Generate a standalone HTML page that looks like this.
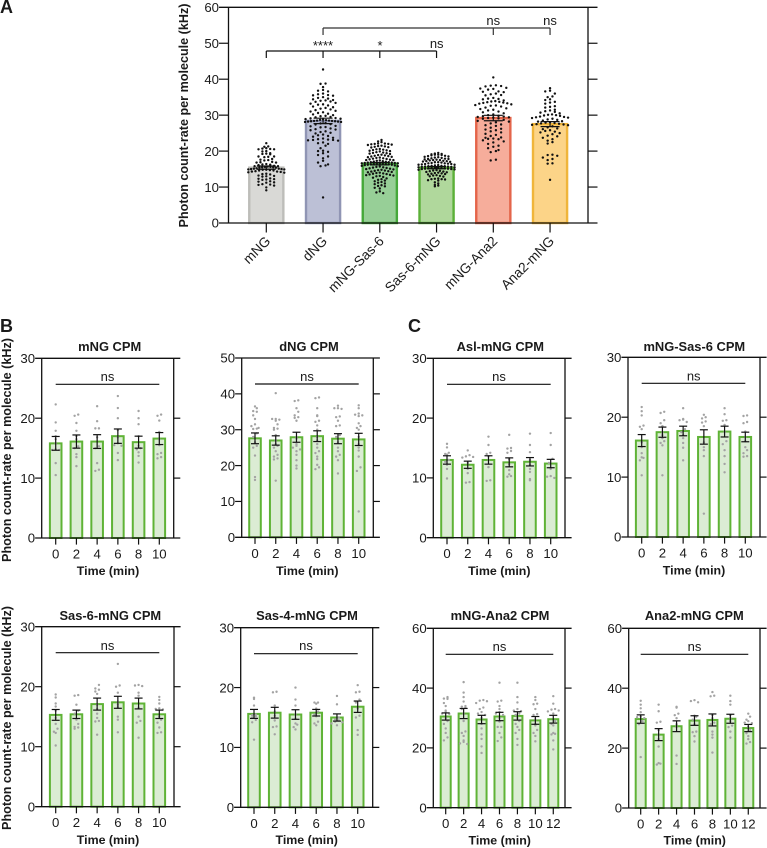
<!DOCTYPE html>
<html lang="en">
<head>
<meta charset="utf-8">
<title>Photon count-rate per molecule</title>
<style>
html,body{margin:0;padding:0;background:#fff}
svg{display:block}
text{font-family:"Liberation Sans",Arial,sans-serif;fill:#1a1a1a}
.pl{font-size:18px;font-weight:700}
.yt{font-size:12.6px;font-weight:700;text-anchor:middle}
.ti{font-size:12.9px;font-weight:700;text-anchor:middle}
.xt{font-size:12.4px;font-weight:700;text-anchor:middle}
.ns{font-size:13px;text-anchor:middle}
</style>
</head>
<body>
<svg id="figure" xmlns="http://www.w3.org/2000/svg" width="767" height="848" viewBox="0 0 767 848">
<rect x="0" y="0" width="767" height="848" fill="#fff"/>
<g id="marks"></g>

<text class="pl" x="0" y="13">A</text>
<text class="pl" x="0" y="332">B</text>
<text class="pl" x="408" y="332">C</text>

<text class="yt" transform="translate(188,115.5) rotate(-90)">Photon count-rate per molecule (kHz)</text>
<text class="yt" transform="translate(11,450) rotate(-90)">Photon count-rate per molecule (kHz)</text>
<text class="yt" transform="translate(11,718) rotate(-90)">Photon count-rate per molecule (kHz)</text>

<text x="323" y="50" font-size="13" text-anchor="middle">****</text>
<text x="380" y="50" font-size="13" text-anchor="middle">*</text>
<text class="ns" x="436.7" y="48">ns</text>
<text class="ns" x="493.3" y="25">ns</text>
<text class="ns" x="550" y="25">ns</text>

<text class="ti" x="109.7" y="351">mNG CPM</text>
<text class="ti" x="309" y="351">dNG CPM</text>
<text class="ti" x="500.3" y="351">Asl-mNG CPM</text>
<text class="ti" x="694.3" y="351">mNG-Sas-6 CPM</text>
<text class="ti" x="110.3" y="620">Sas-6-mNG CPM</text>
<text class="ti" x="307" y="620">Sas-4-mNG CPM</text>
<text class="ti" x="500" y="620">mNG-Ana2 CPM</text>
<text class="ti" x="694.3" y="620">Ana2-mNG CPM</text>

<text class="xt" x="108" y="575">Time (min)</text>
<text class="xt" x="307.3" y="575">Time (min)</text>
<text class="xt" x="499.3" y="575">Time (min)</text>
<text class="xt" x="694" y="574.5">Time (min)</text>
<text class="xt" x="108" y="844">Time (min)</text>
<text class="xt" x="306.7" y="844">Time (min)</text>
<text class="xt" x="499.7" y="844.5">Time (min)</text>
<text class="xt" x="694.7" y="844.5">Time (min)</text>

<text class="ns" x="107.5" y="381">ns</text>
<text class="ns" x="307" y="381">ns</text>
<text class="ns" x="499" y="381">ns</text>
<text class="ns" x="693.7" y="380.5">ns</text>
<text class="ns" x="107.5" y="650">ns</text>
<text class="ns" x="306" y="650">ns</text>
<text class="ns" x="499.5" y="651">ns</text>
<text class="ns" x="694.5" y="651">ns</text>
</svg>

<script>
// ---------- Panel A data ----------
const aCategories = ["mNG", "dNG", "mNG-Sas-6", "Sas-6-mNG", "mNG-Ana2", "Ana2-mNG"];
const aMeans = [15.4, 28.4, 16.5, 15.4, 29.2, 27.5];
const aSems = [0.45, 0.75, 0.35, 0.3, 0.75, 0.7];
const aTicks = [0, 10, 20, 30, 40, 50, 60];
const aDotsMng = [22.2,21.3,21.2,20.8,20.7,20.6,20.5,20.5,20,19.9,19.4,19.3,19.2,19.1,18.5,18.5,18.4,18.3,17.8,17.6,17.5,17.4,17,16.9,16.8,16.8,16.4,16.3,16.2,16.1,15.9,15.8,15.8,15.7,15.6,15.6,15.5,15.5,15.4,15.4,15.2,15.1,15.1,15,15,14.9,14.9,14.8,14.8,14.7,14.6,14.6,14.4,14.3,14.3,14.2,14.1,14,13.7,13.6,13.5,13.2,13.1,13,12.9,12.4,12.3,12.2,12.1,12,11.6,11.5,11.3,11.2,10.8,10.7,10.6,10.4,9.9,9.1];
const aDotsDng = [42.7,38.8,38.7,37.8,37,36.8,36.6,36,35.8,35.6,35.5,35.4,35,34.8,34.6,34.4,34.2,34.1,34,33.8,33.7,33.4,33.2,33,32.9,32.7,32.4,32.2,32,31.8,31.6,31.4,31.2,31,30.8,30.6,30.4,30.2,30,29.8,29.7,29.5,29.4,29.2,29.1,29,28.9,28.8,28.7,28.6,28.5,28.5,28.4,28.4,28.3,28.3,28.2,28.2,28.1,28.1,27.8,27.7,27.5,27.4,27,26.9,26.7,26.6,26.3,26.1,26,25.8,25.5,25.3,25.1,24.9,24.6,24.4,24.2,24,23.7,23.5,23.3,23.2,23.1,23.1,23,22.9,22.4,22.2,22,21.5,20.8,20.1,20,19.8,19.4,18.9,18.5,18,17.3,16.8,16.3,16,15.8,7.1];
const aDotsMngSas6 = [23.1,22.7,22.5,22.1,22.1,22,22,21.9,21.8,21.7,21.5,21.4,21.3,21.2,21.1,21,20.6,20.5,20.4,20.3,20.2,20.1,20,19.9,19.7,19.6,19.5,19.4,19.3,19.2,19,18.9,18.8,18.7,18.6,18.5,18.4,18.3,18.2,18.1,18,17.9,17.8,17.7,17.6,17.5,17.5,17.4,17.3,17.2,17.1,17,16.9,16.9,16.8,16.8,16.7,16.7,16.6,16.6,16.5,16.5,16.5,16.4,16.4,16.3,16.3,16.2,16.2,16.1,16,15.9,15.8,15.7,15.6,15.5,15.4,15.3,15.2,15.1,15,14.9,14.8,14.7,14.6,14.5,14.4,14.3,14.2,14.1,14,13.9,13.8,13.7,13.6,13.5,13.4,13.3,13.2,13.1,13,12.8,12.6,12.4,12.2,12,11.8,11.6,11.4,11.2,11,10.8,10.5,10.3,10.2,9.8,9.6,8.8,8.5,8.3];
const aDotsSas6Mng = [19.5,19.3,19.2,19.1,19,19,18.9,18.8,18.7,18.6,18.5,18.4,18.3,18.2,18.1,18,17.9,17.8,17.8,17.7,17.6,17.5,17.5,17.4,17.3,17.2,17.2,17.1,17,16.9,16.9,16.8,16.7,16.6,16.6,16.5,16.4,16.4,16.3,16.2,16.2,16.1,16,15.9,15.9,15.8,15.8,15.7,15.7,15.6,15.6,15.5,15.5,15.4,15.4,15.3,15.3,15.2,15.2,15.1,15.1,15,15,14.9,14.8,14.7,14.6,14.5,14.4,14.3,14.2,14.1,14,13.9,13.8,13.7,13.6,13.5,13.3,13.2,13.1,13,12.9,12.4,12.3,12.2,12.2,12.1,11.9,11.8,11.3,11,10.6,10.4,10.2];
const aDotsMngAna2 = [40.5,38.3,38.2,38.1,38,37.6,37.4,37.3,37.1,36.6,36.5,36.4,36,35.8,35.6,35.5,34.8,34.6,34.5,34.4,34.1,33.9,33.8,33.7,33.6,33.5,33.4,33.3,33.2,33,32.8,32.7,32.6,32.4,32.1,31.9,31.7,31.5,31.3,31,30.8,30.5,30.2,30,29.8,29.7,29.6,29.5,29.4,29.3,29.2,29.1,29,28.7,28.4,28.2,28,27.7,27.4,27.2,27,26.5,26.2,26,25.8,25.5,25.2,24.8,24.5,24.2,23.8,23.7,23.5,23.4,23.3,23,22.7,22.4,22,21.5,21.2,20.8,20.3,20,19.7,17.6,17.4];
const aDotsAna2Mng = [37.5,36.8,36.6,36,35.2,35,34.4,34.2,33.7,33.5,33.2,32.5,32.3,32.1,31.5,31.3,31.1,30.9,30.7,30.5,30.2,30.1,30,29.9,29.8,29.6,29.5,29.4,29.3,29.2,29,28.8,28.7,28.5,28.3,28.2,28,27.9,27.8,27.7,27.6,27.5,27.4,27.3,27.2,26.9,26.6,26.3,26.1,25.8,25.6,25.4,25.2,25,24.7,24.3,24.1,23.7,23.3,22.9,22.5,22.1,19,18.9,18.7,18.2,17.8,17.5,16.6,16.5,12];

// ---------- Panels B and C shared tick labels ----------
const times6 = [0, 2, 4, 6, 8, 10];
const times7 = [0, 2, 4, 6, 8, 10, 12];
const ticks30 = [0, 10, 20, 30];
const ticks50 = [0, 10, 20, 30, 40, 50];
const ticks60 = [0, 20, 40, 60];

// ---------- mNG CPM ----------
const mngCpmMeans = [15.8, 16.1, 16.1, 17, 16, 16.6];
const mngCpmSems = [1.15, 1.1, 1.15, 1.2, 1, 1];
const mngCpmDots = [
  [22.3,19.3,17.9,17,16.5,15.8,14.8,14.7,14.7,12.5,10.5],
  [20.6,20.4,19.2,17.9,17,16.5,15.3,15,14,13.5,12],
  [22,19.5,18.3,18.3,16.8,15.3,15,12.5,11.4,11.2],
  [23.7,21.7,20,18,16.8,15.8,15.5,15.4,14.2,13],
  [21.2,20,19,17,15.4,15,14.8,14.3,13.7,12.6],
  [20.6,20.4,19.6,17.7,16.5,15.5,14.2,14,13.5,13.3]
];

// ---------- dNG CPM ----------
const dngCpmMeans = [27.6, 27, 27.9, 28.2, 27.5, 27.3];
const dngCpmSems = [1.5, 1.3, 1.4, 1.5, 1.4, 1.7];
const dngCpmDots = [
  [36.5,36,35.2,35,34,33,31.5,31,30.5,30.3,30.2,29,28,26.5,25.5,25,22.8,16.8,16],
  [40.2,33,33,32.8,32.5,31.5,30.5,30.3,30,28.5,27,26,25.5,25,24,23,22.5,22,21.7,15.8],
  [38.2,38,36,35,34,33.5,33.3,32.5,28,27.5,26,25.5,25,24.5,24,23,21.5,20,19.2],
  [39,38.8,36,34,33.8,32.5,32.2,31.2,30,28,27,26,25,24,23.5,22.5,21.8,20.2,19.5,19],
  [36.7,36,36,35.8,33.7,33.5,32.5,31.2,31,28.5,28,26.5,25,24,23,22.5,21.5,17.8],
  [36.8,36,34.5,34.2,34,33.8,31.8,31,30.5,30,28,26,25,24.2,22.5,19.5,18.5,7.2]
];

// ---------- Asl-mNG CPM ----------
const aslCpmMeans = [13, 12.2, 13, 12.6, 12.7, 12.4];
const aslCpmSems = [0.7, 0.6, 0.7, 0.75, 0.7, 0.7];
const aslCpmDots = [
  [15.7,15.1,14.2,14,13.9,13,12.7,12.2,11.5,9.9],
  [14.6,13.8,13.6,13.5,13.4,12.5,11.5,10.8,9.3,9.2],
  [16.9,15.5,14.2,14,13.6,13,11.8,9.6,9.5],
  [17.2,15,14.9,14.5,14.2,13.1,12.3,11.3,10.6,10.3,10.2],
  [17.4,15.5,14.3,13,12.2,11.5,11,9.8,9.6],
  [17.5,15.5,13.2,12.5,11.5,10.3,10.2,10]
];

// ---------- mNG-Sas-6 CPM ----------
const mngSas6CpmMeans = [16.1, 17.5, 17.7, 16.7, 17.6, 16.7];
const mngSas6CpmSems = [1, 0.85, 0.8, 1.2, 0.9, 0.8];
const mngSas6CpmDots = [
  [21.7,21,20.3,18.6,18.4,18,15.8,15,14,13.3,13.2,12.8,10.3],
  [20.9,20.7,19.5,19,18.5,17.5,17,16.5,16,15.7,15.3,10.3],
  [21.5,19.7,19.6,19.5,19.2,18,17.5,17,16.5,15.7,14.9,12.8],
  [20.4,20,19.8,19.3,19.1,18.5,15.8,15,14.5,13.5,3.9],
  [21.5,20.5,19.5,19.4,18.7,17.5,16,15.5,14.5,13.5,12.2,10.8],
  [20.3,20.2,19.2,19,17.6,16.7,16,15,14.5,14,13.5,13.4]
];

// ---------- Sas-6-mNG CPM ----------
const sas6MngCpmMeans = [15.3, 15.4, 17.1, 17.4, 17.2, 15.4];
const sas6MngCpmSems = [0.9, 0.7, 1, 1, 0.9, 0.7];
const sas6MngCpmDots = [
  [18.7,18.2,17.2,16.7,16,14.8,13.8,13,12.5,12.3,10.2],
  [18.6,18.5,17,16,15.5,14.5,13.8,13.3,13.2,13],
  [20.3,19.7,19.5,19.2,18.8,17,16.3,15.5,14.8,14.3,14.2,12],
  [23.8,20.2,20,19,17.5,17,16.6,15,14.5,12.4],
  [20.3,20.2,20.1,19,18.5,16.5,15,14.3,14,11.5],
  [18.3,17.8,17.2,16.4,16.3,16.2,15,14.5,14,13.2,12.4,12.3]
];

// ---------- Sas-4-mNG CPM ----------
const sas4MngCpmMeans = [15.6, 15.8, 15.5, 15.8, 15, 16.8];
const sas4MngCpmSems = [0.75, 0.9, 0.8, 0.55, 0.6, 0.95];
const sas4MngCpmDots = [
  [18.3,18.1,17,15.5,15.4,15.2,15,14.6,14.2,11.3],
  [19.3,19.2,17,16,15.3,14.5,13.5,13.4,12.2],
  [20,18,17,15.5,14.8,14,13.8,13.4,13],
  [17.5,17.5,17.3,16.5,16,15.5,15.2,14.3,14,13.7],
  [18.6,17.2,15,14.7,14.5,14.3,14.2,14,13.7],
  [20.4,19.3,19.2,18,17.5,16.5,15.3,15,12.9,12.1]
];

// ---------- mNG-Ana2 CPM ----------
const mngAna2CpmMeans = [30.5, 31.5, 29.5, 30.5, 30.7, 29.2, 29.6];
const mngAna2CpmSems = [1.2, 1.7, 1.4, 1.4, 1.4, 1.3, 1.3];
const mngAna2CpmDots = [
  [37,36.5,36.4,35,34,32.5,32,31.5,31.4,30,29,28,26.5,25,23.5,22.5],
  [42,38.5,37,35.5,34,33.8,33.5,33,31.5,29,25.5,25,24,22.5,22,21.5,21.3],
  [36,35.8,35.6,35,33.5,33,32,31.5,31,30,28,26.5,24.5,23,20.5,18.3],
  [41.8,35.8,35.5,34,33,32,31.5,31,30,28.8,27,27,25,23.5,22.3],
  [41.8,37,35.2,33,32.5,32.3,31.5,31,30,29,28,27,26,25,23,21],
  [37,36,34.8,34.6,33,31.3,31,29.5,28,27.5,26,25,24,22.2],
  [37.3,34.8,33,32.8,32.5,32.2,31.5,29,28,27.5,25,24.7,24.5,22.5,19.5]
];

// ---------- Ana2-mNG CPM ----------
const ana2MngCpmMeans = [29.7, 24.5, 27.3, 29.2, 29.4, 29.8, 26.7];
const ana2MngCpmSems = [1.4, 2, 1.8, 1.6, 2, 1.5, 1.2];
const ana2MngCpmDots = [
  [35.8,34.5,33.3,32,30.5,30.3,30,29,28,17],
  [34.5,32.3,28.8,28.5,26,24.5,23,20.5,15,14.8,14.5],
  [33.8,33.5,31.5,31,30,28,27,17.5,14.7],
  [36,35.7,35.3,30.8,30.5,29.5,28,25.5,25.3,24,22.2],
  [38.7,37.5,37.3,31,30,28.5,28,25.5,24.5,23.5,18.5],
  [37.5,35.7,34.5,31,30,29,27.5,27,25.5,23.5],
  [31.5,30.5,29.5,29,28.5,28.3,27,26,25,24,23,22,21.5]
];

// ---------- Drawing ----------
const SVGNS = "http://www.w3.org/2000/svg";
const root = document.getElementById("marks");
const INK = "#111";

function shape(parent, tag, attrs, name) {
  const el = document.createElementNS(SVGNS, tag);
  for (const k in attrs) el.setAttribute(k, attrs[k]);
  
  
  parent.appendChild(el);
  return el;
}
function group(parent, name) {
  return shape(parent, "g", {}, name);
}
function rule(parent, x1, y1, x2, y2, width, name, color) {
  return shape(parent, "line", {x1: x1, y1: y1, x2: x2, y2: y2, stroke: color || INK, "stroke-width": width}, name);
}
function label(parent, str, x, y, size, anchor, name, transform) {
  const attrs = {x: x, y: y, "font-size": size, "text-anchor": anchor};
  if (transform) {
    attrs.transform = transform;
    attrs.x = 0;
    attrs.y = 0;
  }
  const el = shape(parent, "text", attrs, name);
  el.textContent = str;
  return el;
}

// Binned swarm: values in the same bin spread symmetrically around the bar centre.
function swarm(values, binSize, spacing, maxHalf) {
  const bins = {};
  values.forEach(function (v) {
    const key = Math.round(v / binSize);
    (bins[key] = bins[key] || []).push(v);
  });
  const out = [];
  Object.keys(bins).forEach(function (key) {
    const row = bins[key];
    const n = row.length;
    const step = n > 1 ? Math.min(spacing, 2 * maxHalf / (n - 1)) : 0;
    row.forEach(function (v, i) {
      const order = i % 2 === 0 ? i / 2 : -(i + 1) / 2;
      const shift = n % 2 === 0 ? order + 0.5 : order;
      out.push({value: v, offset: shift * step});
    });
  });
  return out;
}

function drawPanel(cfg) {
  const g = group(root, cfg.id + "-chart");
  const x = function (i) { return cfg.x0 + i * cfg.step; };
  const y = function (v) { return cfg.bottom - (v / cfg.max) * (cfg.bottom - cfg.top); };

  cfg.means.forEach(function (m, i) {
    const sw = cfg.strokeWidth;
    shape(g, "rect", {
      x: x(i) - cfg.barWidth / 2 + sw / 2,
      y: y(m),
      width: cfg.barWidth - sw,
      height: y(0) - y(m),
      fill: cfg.fills[i % cfg.fills.length],
      stroke: cfg.strokes[i % cfg.strokes.length],
      "stroke-width": sw
    }, cfg.id + "-bar-" + cfg.xLabels[i]);
  });

  cfg.dots.forEach(function (values, i) {
    const dg = group(g, cfg.id + "-dots-" + cfg.xLabels[i]);
    const bin = cfg.binSizes[i % cfg.binSizes.length];
    const gap = cfg.dotSpacings[i % cfg.dotSpacings.length];
    swarm(values, bin, gap, cfg.maxHalf).forEach(function (d) {
      shape(dg, "circle", {cx: x(i) + d.offset, cy: y(d.value), r: cfg.dotRadius, fill: cfg.dotColor}, "data-point");
    });
  });

  cfg.means.forEach(function (m, i) {
    const eg = group(g, cfg.id + "-error-bar-" + cfg.xLabels[i]);
    const s = cfg.sems[i];
    rule(eg, x(i), y(m + s), x(i), y(m - s), 1.2, "error-stem");
    rule(eg, x(i) - cfg.cap, y(m + s), x(i) + cfg.cap, y(m + s), 1.2, "error-cap-upper");
    rule(eg, x(i) - cfg.cap, y(m - s), x(i) + cfg.cap, y(m - s), 1.2, "error-cap-lower");
  });

  const ag = group(g, cfg.id + "-axes");
  const T = cfg.tickLen;
  rule(ag, cfg.left, y(cfg.max), cfg.left, y(0), 1.3, "y-axis-left");
  rule(ag, cfg.right, y(cfg.max), cfg.right, y(0), 1.3, "y-axis-right");
  rule(ag, cfg.left - T, y(cfg.max), cfg.right + T, y(cfg.max), 1.3, "top-axis");
  rule(ag, cfg.left - T, y(0), cfg.right + T, y(0), 1.3, "x-axis");

  cfg.yTicks.forEach(function (t) {
    if (t !== 0 && t !== cfg.max) {
      rule(ag, cfg.left - T, y(t), cfg.left, y(t), 1.2, "y-tick");
      rule(ag, cfg.right, y(t), cfg.right + T, y(t), 1.2, "y-tick-right");
    }
    label(ag, String(t), cfg.left - T, y(t) + 4.7, cfg.fontSize, "end", "y-tick-label");
  });

  cfg.xLabels.forEach(function (lab, i) {
    rule(ag, x(i), y(0), x(i), y(0) + T, 1.2, "x-tick");
    if (cfg.rotateLabels) {
      label(ag, lab, 0, 0, cfg.fontSize + 0.5, "end", "x-tick-label",
        "translate(" + (x(i) + 5) + "," + (y(0) + 19) + ") rotate(-45)");
    } else {
      label(ag, lab, x(i), y(0) + 20.5, cfg.fontSize, "middle", "x-tick-label");
    }
  });

  if (cfg.nsLine) {
    rule(g, x(0), y(cfg.max) + 26, x(cfg.xLabels.length - 1), y(cfg.max) + 26, 1.2, cfg.id + "-ns-line");
  }
  return {x: x, y: y, g: g};
}

const greens = {fills: ["#dbecd4"], strokes: ["#5fb336"]};

const panelA = drawPanel({
  id: "panel-a", left: 228.5, right: 588, top: 7.3, bottom: 223, max: 60,
  x0: 266.3, step: 56.75, barWidth: 36.5, strokeWidth: 2.4, cap: 9.5, tickLen: 9.5, fontSize: 13.2,
  means: aMeans, sems: aSems,
  dots: [aDotsMng, aDotsDng, aDotsMngSas6, aDotsSas6Mng, aDotsMngAna2, aDotsAna2Mng],
  xLabels: aCategories, yTicks: aTicks, rotateLabels: true,
  fills: ["#d9d9d6", "#bcc0d6", "#97cf97", "#b0d89c", "#f6ad9b", "#fcd488"],
  strokes: ["#bdbdb9", "#9095b4", "#45a83a", "#5bb038", "#e4654a", "#f0b53a"],
  binSizes: [0.9, 1.05, 0.85, 0.72, 1.15, 1.1],
  dotSpacings: [3.9, 5, 3.4, 3.4, 5.2, 4.8],
  maxHalf: 18, dotRadius: 1.2, dotColor: "#111"
});

// Significance brackets for panel A
const bracketsA = group(panelA.g, "panel-a-significance-brackets");
rule(bracketsA, panelA.x(0), 51, panelA.x(3), 51, 1.2, "bracket-lower", "#111");
[0, 1, 2, 3].forEach(function (i) {
  rule(bracketsA, panelA.x(i), 51, panelA.x(i), 58, 1.2, "bracket-lower-drop", "#111");
});
rule(bracketsA, panelA.x(1), 28, panelA.x(5), 28, 1.2, "bracket-upper", "#333");
[1, 4, 5].forEach(function (i) {
  rule(bracketsA, panelA.x(i), 28, panelA.x(i), 35, 1.2, "bracket-upper-drop", "#333");
});

function drawSmall(id, left, right, top, bottom, x0, step, max, yTicks, xLabels, means, sems, dots) {
  drawPanel({
    id: id, left: left, right: right, top: top, bottom: bottom, max: max,
    x0: x0, step: step, barWidth: xLabels.length === 7 ? 12 : 13.6, strokeWidth: 2,
    cap: 4, tickLen: 6.6, fontSize: 13.2,
    means: means, sems: sems, dots: dots, xLabels: xLabels.map(String), yTicks: yTicks, nsLine: true,
    fills: greens.fills, strokes: greens.strokes,
    binSizes: [max / 42], dotSpacings: [3.6], maxHalf: 7.5, dotRadius: 1.2, dotColor: "#a3a3a3"
  });
}

drawSmall("mng-cpm", 41.7, 173.7, 358.3, 538, 55.7, 20.72, 30, ticks30, times6, mngCpmMeans, mngCpmSems, mngCpmDots);
drawSmall("dng-cpm", 241.7, 373.3, 358, 537.3, 255, 20.74, 50, ticks50, times6, dngCpmMeans, dngCpmSems, dngCpmDots);
drawSmall("asl-mng-cpm", 433.3, 565, 358.3, 537.7, 447, 20.74, 30, ticks30, times6, aslCpmMeans, aslCpmSems, aslCpmDots);
drawSmall("mng-sas-6-cpm", 628, 760, 357.3, 537, 641.7, 20.72, 30, ticks30, times6, mngSas6CpmMeans, mngSas6CpmSems, mngSas6CpmDots);
drawSmall("sas-6-mng-cpm", 41.7, 174, 626.7, 806.7, 55.7, 20.72, 30, ticks30, times6, sas6MngCpmMeans, sas6MngCpmSems, sas6MngCpmDots);
drawSmall("sas-4-mng-cpm", 240.7, 372.7, 627.7, 807.3, 254, 20.74, 30, ticks30, times6, sas4MngCpmMeans, sas4MngCpmSems, sas4MngCpmDots);
drawSmall("mng-ana2-cpm", 433.3, 565, 628.3, 807.7, 445.7, 17.93, 60, ticks60, times7, mngAna2CpmMeans, mngAna2CpmSems, mngAna2CpmDots);
drawSmall("ana2-mng-cpm", 628.7, 760, 628.3, 808, 640.7, 17.93, 60, ticks60, times7, ana2MngCpmMeans, ana2MngCpmSems, ana2MngCpmDots);
</script>
</body>
</html>
